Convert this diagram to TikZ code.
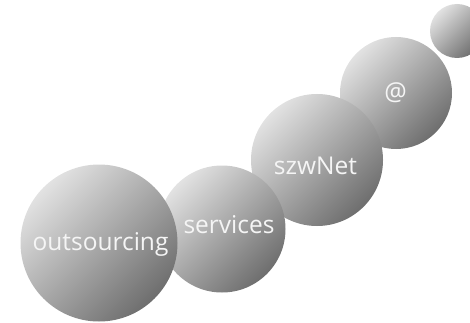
\documentclass[tikz,border=0pt]{standalone}
\usepackage{fontspec}
\setsansfont{Open Sans}
\usetikzlibrary{shapes}
\definecolor{ballhi}{RGB}{226,226,226}
\definecolor{balllo}{RGB}{110,110,110}
\tikzset{
  ball/.style={circle, inner sep=0pt, outer sep=0pt, top color=ballhi, bottom color=balllo, shading angle=45},
  word/.style={anchor=base, inner sep=0pt, text=white!96!black, font=\sffamily\fontsize{24.5}{24.5}\selectfont}
}

\begin{document}
\begin{tikzpicture}[x=1pt,y=-1pt]
\useasboundingbox (0,0) rectangle (470,323);
\clip (0,0) rectangle (470,323);
% balls, back to front
\node [ball, minimum size=54] (dot) at (457,31) {};
\node [ball, minimum size=112] (at) at (396,93) {};
\node [ball, minimum size=132] (szw) at (317,160) {};
\node [ball, minimum size=127] (serv) at (222,229) {};
\node [ball, minimum size=157] (outs) at (99,243) {};
% words
\node [word, font=\sffamily\fontsize{25}{25}\selectfont] (atword) at (395.5,101) {@};
\node [word] (szwword) at (315.5,174) {szwNet};
\node [word] (servword) at (229,233) {services};
\node [word] (outsword) at (100.5,250) {outsourcing};
\end{tikzpicture}
\end{document}
